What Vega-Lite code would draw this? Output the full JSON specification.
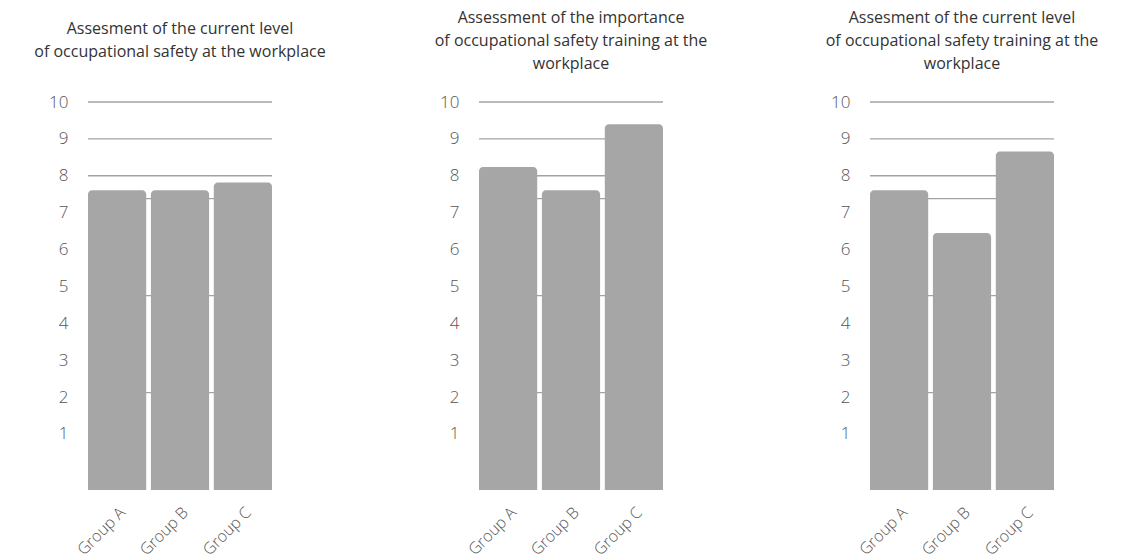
{
  "$schema": "https://vega.github.io/schema/vega-lite/v6.json",
  "autosize": {"type": "none"},
  "padding": {"left": 88, "top": 102, "right": 1038, "bottom": 458},
  "background": "white",
  "datasets": {
    "grid": [{"v": 10}, {"v": 9}, {"v": 8}, {"v": 7.38}, {"v": 4.75}, {"v": 2.12}],
    "bars": [
      {"panel": 1, "group": "Group A", "value": 7.61},
      {"panel": 1, "group": "Group B", "value": 7.61},
      {"panel": 1, "group": "Group C", "value": 7.82},
      {"panel": 2, "group": "Group A", "value": 8.24},
      {"panel": 2, "group": "Group B", "value": 7.61},
      {"panel": 2, "group": "Group C", "value": 9.4},
      {"panel": 3, "group": "Group A", "value": 7.61},
      {"panel": 3, "group": "Group B", "value": 6.45},
      {"panel": 3, "group": "Group C", "value": 8.66}
    ]
  },
  "bounds": "flush",
  "spacing": 207,
  "hconcat": [
    {
      "width": 184, "height": 388,
      "title": {"text": ["Assesment of the current level", "of occupational safety at the workplace"], "offset": 33},
      "layer": [
        {"data": {"name": "grid"}, "mark": {"type": "rule", "color": "#a3a3a3", "strokeWidth": 1.3},
         "encoding": {"y": {"field": "v", "type": "quantitative", "scale": {"domain": [-0.52, 10], "nice": false, "zero": false}, "axis": {"values": [1,2,3,4,5,6,7,8,9,10], "title": null}}}},
        {"data": {"name": "bars"}, "transform": [{"filter": "datum.panel == 1"}],
         "mark": {"type": "bar", "color": "#a6a6a6", "cornerRadiusTopLeft": 4, "cornerRadiusTopRight": 4},
         "encoding": {
           "x": {"field": "group", "type": "nominal", "scale": {"paddingInner": 0.075, "paddingOuter": 0}, "axis": {"title": null}},
           "y": {"field": "value", "type": "quantitative", "scale": {"domain": [-0.52, 10], "nice": false, "zero": false}, "axis": {"values": [1,2,3,4,5,6,7,8,9,10], "title": null}},
           "y2": {"datum": -0.52}
         }}
      ]
    },
    {
      "width": 184, "height": 388,
      "title": {"text": ["Assessment of the importance", "of occupational safety training at the", "workplace"], "offset": 21},
      "layer": [
        {"data": {"name": "grid"}, "mark": {"type": "rule", "color": "#a3a3a3", "strokeWidth": 1.3},
         "encoding": {"y": {"field": "v", "type": "quantitative", "scale": {"domain": [-0.52, 10], "nice": false, "zero": false}, "axis": {"values": [1,2,3,4,5,6,7,8,9,10], "title": null}}}},
        {"data": {"name": "bars"}, "transform": [{"filter": "datum.panel == 2"}],
         "mark": {"type": "bar", "color": "#a6a6a6", "cornerRadiusTopLeft": 4, "cornerRadiusTopRight": 4},
         "encoding": {
           "x": {"field": "group", "type": "nominal", "scale": {"paddingInner": 0.075, "paddingOuter": 0}, "axis": {"title": null}},
           "y": {"field": "value", "type": "quantitative", "scale": {"domain": [-0.52, 10], "nice": false, "zero": false}, "axis": {"values": [1,2,3,4,5,6,7,8,9,10], "title": null}},
           "y2": {"datum": -0.52}
         }}
      ]
    },
    {
      "width": 184, "height": 388,
      "title": {"text": ["Assesment of the current level", "of occupational safety training at the", "workplace"], "offset": 21},
      "layer": [
        {"data": {"name": "grid"}, "mark": {"type": "rule", "color": "#a3a3a3", "strokeWidth": 1.3},
         "encoding": {"y": {"field": "v", "type": "quantitative", "scale": {"domain": [-0.52, 10], "nice": false, "zero": false}, "axis": {"values": [1,2,3,4,5,6,7,8,9,10], "title": null}}}},
        {"data": {"name": "bars"}, "transform": [{"filter": "datum.panel == 3"}],
         "mark": {"type": "bar", "color": "#a6a6a6", "cornerRadiusTopLeft": 4, "cornerRadiusTopRight": 4},
         "encoding": {
           "x": {"field": "group", "type": "nominal", "scale": {"paddingInner": 0.075, "paddingOuter": 0}, "axis": {"title": null}},
           "y": {"field": "value", "type": "quantitative", "scale": {"domain": [-0.52, 10], "nice": false, "zero": false}, "axis": {"values": [1,2,3,4,5,6,7,8,9,10], "title": null}},
           "y2": {"datum": -0.52}
         }}
      ]
    }
  ],
  "config": {
    "view": {"stroke": null},
    "font": "Open Sans",
    "title": {"font": "Open Sans", "fontSize": 16, "fontWeight": "normal", "color": "#333333", "lineHeight": 23, "anchor": "middle", "frame": "group"},
    "axis": {"grid": false, "domain": false, "ticks": false, "labelFont": "Open Sans", "labelFontWeight": 300, "labelColor": "#555555"},
    "axisY": {"labelFontSize": 17, "labelPadding": 20},
    "axisX": {"labelFontSize": 16, "labelAngle": -45, "labelPadding": 14}
  }
}
